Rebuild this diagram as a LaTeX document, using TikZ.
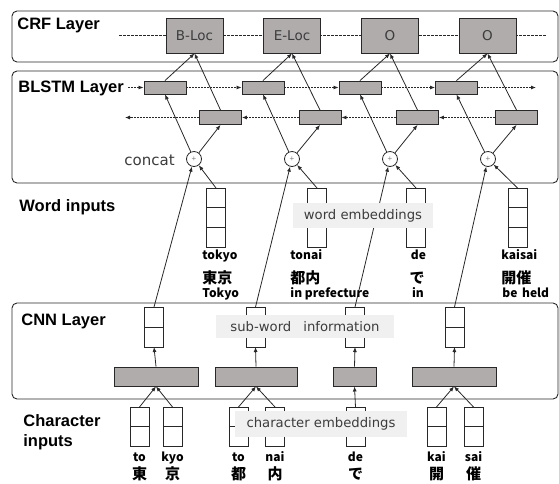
\documentclass[tikz,border=0pt]{standalone}
\usepackage{fontspec}
\setmainfont{Liberation Sans}
\newfontfamily\labfont{DejaVu Sans}
\newfontfamily\jpfont{Noto Sans CJK JP}
\usetikzlibrary{arrows.meta}
\definecolor{boxgray}{RGB}{176,172,172}
\definecolor{edge}{RGB}{40,40,40}
\definecolor{labbg}{RGB}{240,240,240}
\definecolor{labtxt}{RGB}{60,60,60}
\newcommand{\romfont}{\jpfont\bfseries\fontsize{12}{13}\selectfont}
\newcommand{\kanjifont}{\jpfont\bfseries\fontsize{15}{17}\selectfont}
\newcommand{\titlefont}{\bfseries\fontsize{16.5}{20}\selectfont}
\begin{document}
\begin{tikzpicture}[x=1pt,y=-1pt,line width=0.8pt,
  panel/.style={draw=edge,rounded corners=5pt,line width=0.9pt},
  crfbox/.style={draw=edge,fill=boxgray,line width=0.9pt,minimum width=57pt,minimum height=35pt,inner sep=0pt,
     font=\labfont\fontsize{13.5}{15}\selectfont,text=labtxt},
  lstmbox/.style={draw=edge,fill=boxgray,line width=0.9pt,minimum width=42pt,minimum height=14pt,inner sep=0pt},
  convbox/.style={draw=edge,fill=boxgray,line width=0.9pt,minimum height=19pt,inner sep=0pt},
  catnode/.style={circle,draw=edge,fill=white,line width=0.8pt,minimum size=15pt,inner sep=0pt,
     font=\fontsize{8}{8}\selectfont,text=gray},
  colbox/.style={draw=edge,fill=white,line width=0.8pt,minimum width=19pt,inner sep=0pt,outer sep=0pt},
  conn/.style={draw=edge,line width=0.8pt,-{Latex[length=5pt,width=4pt]}},
  dconn/.style={draw=edge,line width=0.8pt,dash pattern=on 2pt off 1pt,-{Latex[length=5pt,width=4pt]}},
  labelbox/.style={fill=labbg,inner sep=0pt,text=labtxt,font=\labfont\fontsize{13.2}{15}\selectfont},
  ttl/.style={anchor=base west,inner sep=0pt,font=\titlefont},
  rom/.style={inner sep=0pt,font=\romfont},
  kan/.style={inner sep=0pt,font=\kanjifont}
]
\useasboundingbox (0,0) rectangle (559,483);

% panels
\draw[panel] (12,11) rectangle (558,62);
\draw[panel] (12,71) rectangle (558,183);
\draw[panel] (12,303) rectangle (558,399);

% titles
\node[ttl] (tcrf) at (17,29) {CRF Layer};
\node[ttl] (tblstm) at (18,92) {BLSTM Layer};
\node[ttl] (tword) at (19,211) {Word inputs};
\node[ttl] (tcnn) at (21,325) {CNN Layer};
\node[ttl] (tchar) at (23,426) {Character};
\node[ttl] (tchar2) at (23,446) {inputs};
\node[anchor=base west,inner sep=0pt,font=\labfont\fontsize{15}{17}\selectfont,text=labtxt] (tcat) at (124,165) {concat};

% CRF dashed chain
\coordinate (crfL) at (119,35.5);
\coordinate (crfR) at (546,35.5);
\draw[draw=edge,line width=0.7pt,dash pattern=on 3pt off 1pt] (crfL) -- (crfR);

% CRF boxes
\node[crfbox] (crf1) at (194.5,35.5) {B-Loc};
\node[crfbox] (crf2) at (292,35.5) {E-Loc};
\node[crfbox] (crf3) at (390,35.5) {O};
\node[crfbox] (crf4) at (487.5,35.5) {O};

% BLSTM boxes
\node[lstmbox,minimum height=13pt] (f1) at (165,87.5) {};
\node[lstmbox,minimum height=13pt] (f2) at (263,87.5) {};
\node[lstmbox,minimum height=13pt] (f3) at (360,87.5) {};
\node[lstmbox,minimum height=13pt] (f4) at (456.5,87.5) {};
\node[lstmbox] (b1) at (220.5,117.5) {};
\node[lstmbox] (b2) at (320,117.5) {};
\node[lstmbox] (b3) at (417.5,117.5) {};
\node[lstmbox] (b4) at (516.5,117.5) {};

% concat circles
\node[catnode] (c1) at (194,159) {+};
\node[catnode] (c2) at (292,159) {+};
\node[catnode] (c3) at (390,159) {+};
\node[catnode] (c4) at (488,159) {+};

% forward / backward dashed arrows
\coordinate (fstart) at (128,87.5);
\coordinate (fend) at (536,87.5);
\coordinate (bend) at (125,117.5);
\draw[dconn] (fstart) -- (f1.west);
\draw[dconn] (f1.east) -- (f2.west);
\draw[dconn] (f2.east) -- (f3.west);
\draw[dconn] (f3.east) -- (f4.west);
\draw[dconn] (f4.east) -- (fend);
\draw[dconn] (b4.west) -- (b3.east);
\draw[dconn] (b3.west) -- (b2.east);
\draw[dconn] (b2.west) -- (b1.east);
\draw[dconn] (b1.west) -- (bend);

% BLSTM connectors
\foreach \i in {1,2,3,4}{
  \draw[conn] (c\i) -- (f\i.south);
  \draw[conn] (c\i) -- (b\i.south);
  \draw[conn] (f\i.north) -- (crf\i.south);
  \draw[conn] (b\i.north) -- (crf\i.south);
}

% word embedding columns (3 cells)
\foreach \n/\x in {w1/216,w2/317,w3/416,w4/517.5}{
  \node[colbox,minimum height=59.1pt] (\n) at (\x,217.55) {};
  \draw[edge,line width=0.8pt] (\n.north west) ++(0,19.7) -- ++(19,0);
  \draw[edge,line width=0.8pt] (\n.north west) ++(0,39.4) -- ++(19,0);
}
\foreach \i in {1,2,3,4}{ \draw[conn] (w\i.north) -- (c\i); }

% CNN vectors (2 cells)
\foreach \n/\x in {v1/154,v2/255.5,v3/355,v4/454.5}{
  \node[colbox,minimum height=40pt] (\n) at (\x,327) {};
  \draw[edge,line width=0.8pt] (\n.north west) ++(0,20) -- ++(19,0);
}
\foreach \i in {1,2,3,4}{ \draw[conn] (v\i.north) -- (c\i); }

% conv boxes
\node[convbox,minimum width=84pt] (k1) at (156,376.5) {};
\node[convbox,minimum width=82pt] (k2) at (256,376.5) {};
\node[convbox,minimum width=43pt] (k3) at (354.5,376.5) {};
\node[convbox,minimum width=84pt] (k4) at (454,376.5) {};
\foreach \i in {1,2,3,4}{ \draw[conn] (k\i.north) -- (v\i.south); }

% character columns (2 cells)
\foreach \n/\x in {h1/139.5,h2/172.5,h3/238.5,h4/275,h5/355.5,h6/436.5,h7/473.5}{
  \node[colbox,minimum height=39pt] (\n) at (\x,426.5) {};
  \draw[edge,line width=0.8pt] (\n.north west) ++(0,19.5) -- ++(19,0);
}
\draw[conn] (h1.north) -- (k1.south);
\draw[conn] (h2.north) -- (k1.south);
\draw[conn] (h3.north) -- (k2.south);
\draw[conn] (h4.north) -- (k2.south);
\draw[conn] (h5.north) -- (k3.south);
\draw[conn] (h6.north) -- (k4.south);
\draw[conn] (h7.north) -- (k4.south);

% word labels
\node[rom,anchor=base west] (r1) at (202,259.5) {tokyo};
\node[kan,anchor=west] (j1) at (202,278) {東京};
\node[rom,anchor=base west] (e1) at (202,297.5) {Tokyo};
\node[rom,anchor=base west] (r2) at (290,259.5) {tonai};
\node[kan,anchor=west] (j2) at (290,278) {都内};
\node[rom,anchor=base west] (e2) at (290,297.5) {in prefecture};
\node[rom,anchor=base] (r3) at (418.5,259.5) {de};
\node[kan] (j3) at (417,278) {で};
\node[rom,anchor=base] (e3) at (418,297.5) {in};
\node[rom,anchor=base west] (r4) at (501,259.5) {kaisai};
\node[kan,anchor=west] (j4) at (501,278) {開催};
\node[rom,anchor=base west] (e4) at (502,297.5) {be\hspace{2pt} held};

% character labels
\foreach \n/\x/\r/\k in {1/139.5/to/東,2/172.5/kyo/京,3/238.5/to/都,4/275/nai/内,5/355.5/de/で,6/436.5/kai/開,7/473.5/sai/催}{
  \node[rom,anchor=base] (cr\n) at (\x,461.5) {\r};
  \node[kan] (ck\n) at (\x,474) {\k};
}

% annotation labels
\node[labelbox,minimum width=140pt,minimum height=25pt] (lwe) at (363,215.5) {word embeddings};
\node[labelbox,minimum width=178pt,minimum height=23pt] (lsw) at (305,326.5) {sub-word\hspace{12pt}information};
\node[labelbox,minimum width=172pt,minimum height=26pt] (lce) at (321,424) {character embeddings};
\end{tikzpicture}
\end{document}
